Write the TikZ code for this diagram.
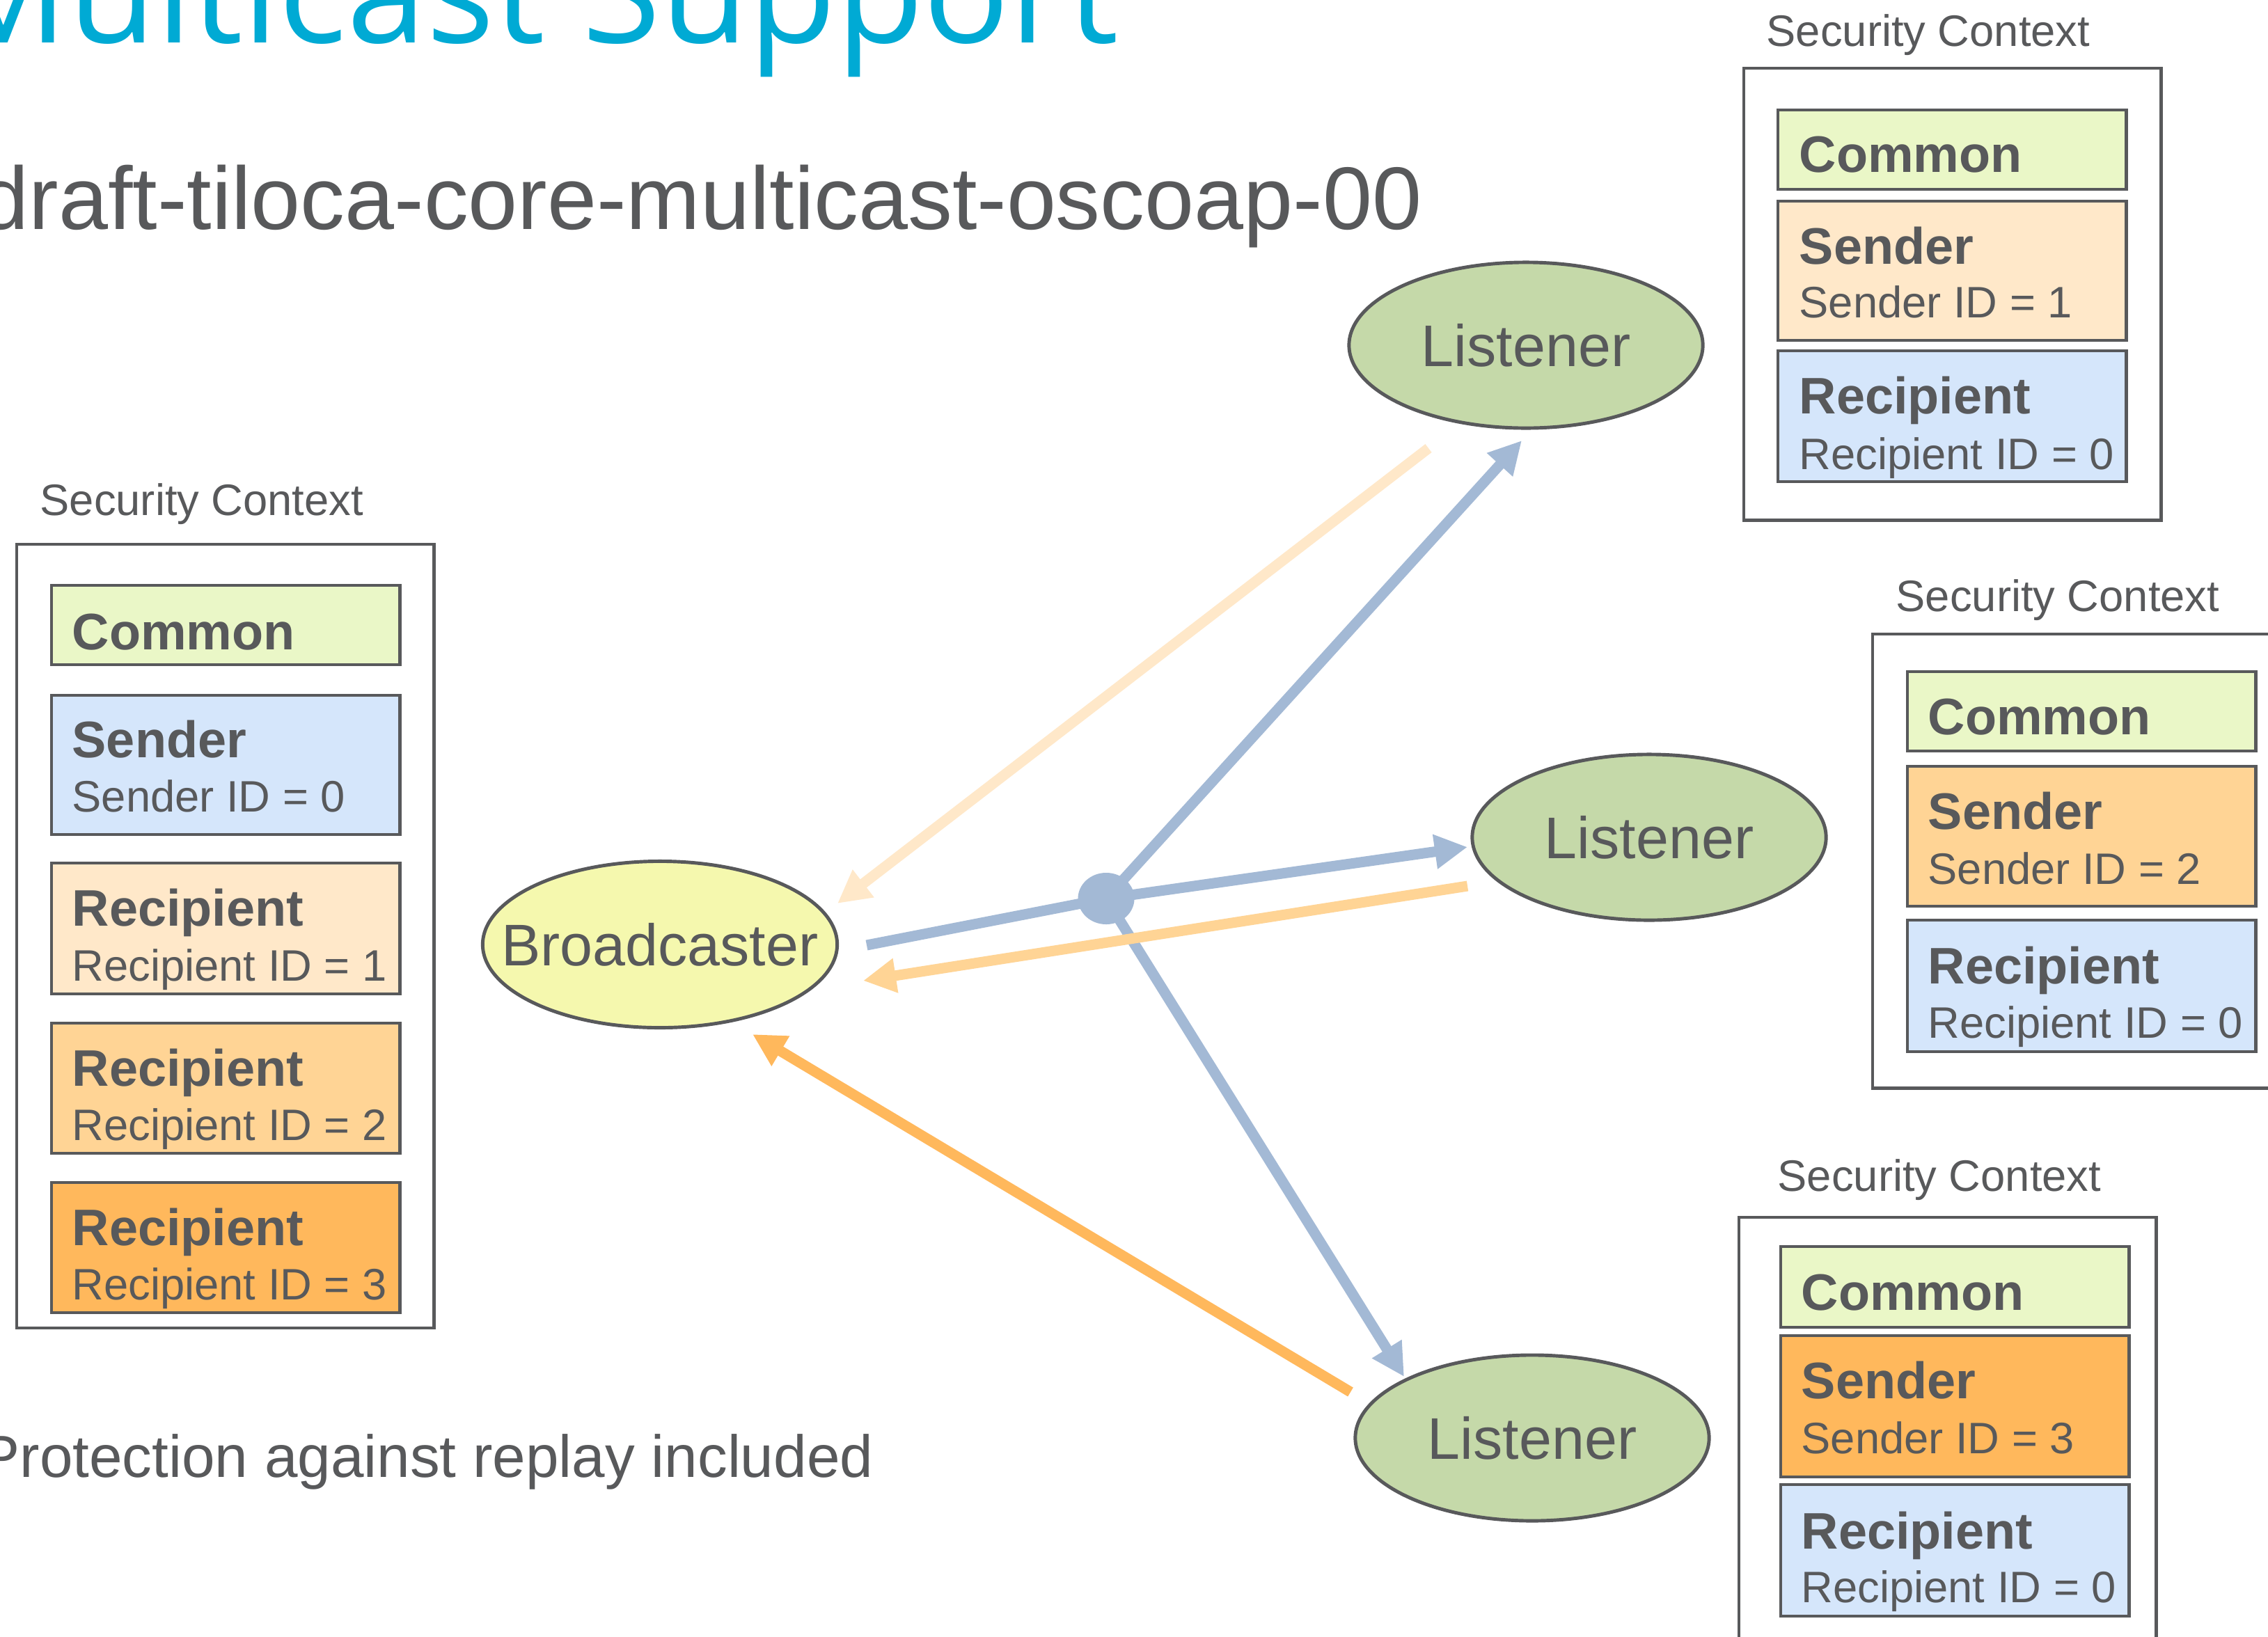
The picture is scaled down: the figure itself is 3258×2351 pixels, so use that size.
\documentclass[tikz,border=0pt]{standalone}
\usepackage{fontspec}
\setmainfont{Liberation Sans}
\newfontfamily\titlefont{Open Sans}
\usetikzlibrary{shapes.geometric,arrows.meta}
\definecolor{ink}{HTML}{58595B}
\definecolor{titleblue}{HTML}{00AAD4}
\definecolor{commongreen}{HTML}{EAF7C7}
\definecolor{idblue}{HTML}{D5E6FB}
\definecolor{peach}{HTML}{FFE8C9}
\definecolor{midorange}{HTML}{FFD495}
\definecolor{deeporange}{HTML}{FFB85C}
\definecolor{linkblue}{HTML}{A3B9D5}
\definecolor{bcyellow}{HTML}{F5F8AE}
\definecolor{lsgreen}{HTML}{C5D9A9}

\begin{document}
\begin{tikzpicture}[x=0.01cm, y=-0.01cm]
\tikzstyle{every node}=[inner sep=0pt, text=ink]
\tikzstyle{ctxlabel}=[anchor=base west, font=\fontsize{18}{20}\selectfont]
\tikzstyle{ctxbox}=[draw=ink, line width=1.2pt, fill=white, anchor=north west,
                    minimum width=5.99cm]
\tikzstyle{fieldbox}=[draw=ink, line width=1.2pt, anchor=north west,
                      minimum width=5cm]
\tikzstyle{fieldhead}=[anchor=base west, font=\bfseries\fontsize{21}{24}\selectfont]
\tikzstyle{fieldid}=[anchor=base west, font=\fontsize{18}{20}\selectfont]
\tikzstyle{peer}=[ellipse, draw=ink, line width=1.4pt, fill=lsgreen,
                  minimum width=5.08cm, minimum height=2.38cm]
\tikzstyle{peername}=[font=\fontsize{24}{28}\selectfont]
\tikzstyle{msg}=[line width=4.27pt, -{Triangle[length=0.47cm,width=0.47cm]}]

\useasboundingbox (0,0) rectangle (3258,2351);
\fill[white] (0,0) rectangle (3258,2351);

% headings
\node[anchor=base west, text=titleblue, font=\titlefont\fontsize{58.4}{62}\selectfont]
  (title) at (-88,61) {Multicast Support};
\node[anchor=base west, font=\fontsize{36.3}{40}\selectfont]
  (draft) at (-30,329) {draft-tiloca-core-multicast-oscoap-00};
\node[anchor=base west, font=\fontsize{24.3}{28}\selectfont]
  (replay) at (-29,2122) {Protection against replay included};

% broadcaster context
\node[ctxlabel] (lctxlabel) at (57,740) {Security Context};
\node[ctxbox, minimum height=11.25cm] (lctx) at (22,780) {};
\node[fieldbox, fill=commongreen, minimum height=1.14cm] (lcommon) at (72,839) {};
\node[fieldhead] at (103,933) {Common};
\node[fieldbox, fill=idblue, minimum height=2cm] (lsender) at (72,997) {};
\node[fieldhead] at (103,1088) {Sender};
\node[fieldid] at (103,1166) {Sender ID = 0};
\node[fieldbox, fill=peach, minimum height=1.88cm] (lrec1) at (72,1238) {};
\node[fieldhead] at (103,1330) {Recipient};
\node[fieldid] at (103,1409) {Recipient ID = 1};
\node[fieldbox, fill=midorange, minimum height=1.87cm] (lrec2) at (72,1468) {};
\node[fieldhead] at (103,1560) {Recipient};
\node[fieldid] at (103,1638) {Recipient ID = 2};
\node[fieldbox, fill=deeporange, minimum height=1.87cm] (lrec3) at (72,1697) {};
\node[fieldhead] at (103,1789) {Recipient};
\node[fieldid] at (103,1867) {Recipient ID = 3};

% top listener context
\node[ctxlabel] (tctxlabel) at (2537,66) {Security Context};
\node[ctxbox, minimum height=6.49cm] (tctx) at (2503,96) {};
\node[fieldbox, fill=commongreen, minimum height=1.14cm] (tcommon) at (2552,156) {};
\node[fieldhead] at (2584,247) {Common};
\node[fieldbox, fill=peach, minimum height=2cm] (tsender) at (2552,287) {};
\node[fieldhead] at (2584,379) {Sender};
\node[fieldid] at (2584,456) {Sender ID = 1};
\node[fieldbox, fill=idblue, minimum height=1.88cm] (trec) at (2552,502) {};
\node[fieldhead] at (2584,594) {Recipient};
\node[fieldid] at (2584,674) {Recipient ID = 0};

% middle listener context
\node[ctxlabel] (mctxlabel) at (2723,878) {Security Context};
\node[ctxbox, minimum height=6.52cm] (mctx) at (2688,909) {};
\node[fieldbox, fill=commongreen, minimum height=1.14cm] (mcommon) at (2738,963) {};
\node[fieldhead] at (2769,1055) {Common};
\node[fieldbox, fill=midorange, minimum height=2.01cm] (msender) at (2738,1099) {};
\node[fieldhead] at (2769,1191) {Sender};
\node[fieldid] at (2769,1270) {Sender ID = 2};
\node[fieldbox, fill=idblue, minimum height=1.89cm] (mrec) at (2738,1320) {};
\node[fieldhead] at (2769,1413) {Recipient};
\node[fieldid] at (2769,1491) {Recipient ID = 0};

% bottom listener context
\node[ctxlabel] (bctxlabel) at (2553,1711) {Security Context};
\node[ctxbox, minimum height=6.5cm] (bctx) at (2496,1747) {};
\node[fieldbox, fill=commongreen, minimum height=1.16cm] (bcommon) at (2556,1789) {};
\node[fieldhead] at (2587,1882) {Common};
\node[fieldbox, fill=deeporange, minimum height=2.03cm] (bsender) at (2556,1917) {};
\node[fieldhead] at (2587,2009) {Sender};
\node[fieldid] at (2587,2088) {Sender ID = 3};
\node[fieldbox, fill=idblue, minimum height=1.89cm] (brec) at (2556,2131) {};
\node[fieldhead] at (2587,2225) {Recipient};
\node[fieldid] at (2587,2302) {Recipient ID = 0};

% endpoints
\node[peer, fill=bcyellow, minimum width=5.09cm, minimum height=2.39cm] (bc) at (948,1357) {};
\node[peername] at (bc.center) {Broadcaster};
\node[peer] (lt) at (2192,496) {};
\node[peername] at (lt.center) {Listener};
\node[peer] (lm) at (2369,1203) {};
\node[peername] at (lm.center) {Listener};
\node[peer] (lb) at (2201,2066) {};
\node[peername] at (lb.center) {Listener};

% message ends
\coordinate (bc-out) at (1245,1358);
\coordinate (lt-in) at (2186,633);
\coordinate (lm-in) at (2108,1217);
\coordinate (lb-in) at (2017,1978);
\coordinate (lt-out) at (2052,644);
\coordinate (bc-in1) at (1203,1298);
\coordinate (lm-out) at (2108,1273);
\coordinate (bc-in2) at (1240,1409);
\coordinate (lb-out) at (1940,2000);
\coordinate (bc-in3) at (1081,1486);

\node[ellipse, fill=linkblue, minimum width=0.81cm, minimum height=0.74cm] (hub) at (1589,1291) {};
\draw[line width=4.27pt, linkblue] (bc-out) -- (hub.center);
\draw[msg, linkblue] (hub.center) -- (lt-in);
\draw[msg, linkblue] (hub.center) -- (lm-in);
\draw[msg, linkblue] (hub.center) -- (lb-in);
\draw[msg, peach] (lt-out) -- (bc-in1);
\draw[msg, midorange] (lm-out) -- (bc-in2);
\draw[msg, deeporange] (lb-out) -- (bc-in3);
\end{tikzpicture}
\end{document}
